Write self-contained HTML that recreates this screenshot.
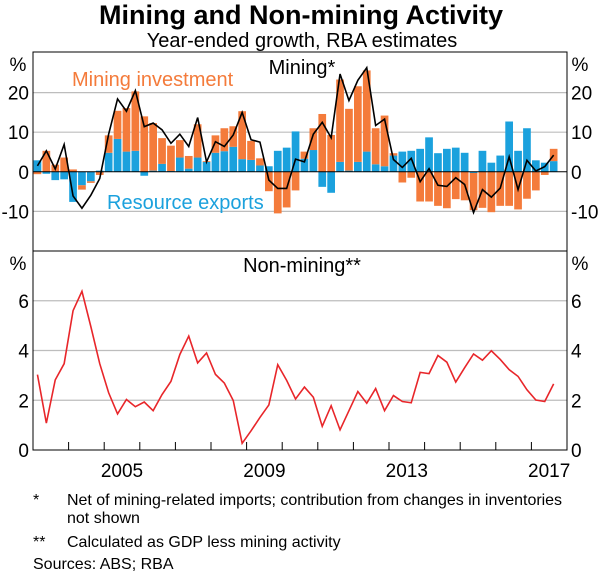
<!DOCTYPE html>
<html><head><meta charset="utf-8"><style>
body{margin:0;background:#fff;}
svg text{font-family:"Liberation Sans",Arial,sans-serif;}
</style></head><body>
<svg id="chart" width="600" height="574" viewBox="0 0 600 574" xmlns="http://www.w3.org/2000/svg">
<text x="301" y="24" font-size="27" font-weight="bold" text-anchor="middle">Mining and Non-mining Activity</text>
<text x="302" y="47" font-size="20" text-anchor="middle">Year-ended growth, RBA estimates</text>
<g id="topPanel"></g><g id="bottomPanel"></g>
<text x="33" y="505" font-size="16">*</text>
<text x="67" y="505" font-size="16" textLength="495">Net of mining-related imports; contribution from changes in inventories</text>
<text x="67" y="523" font-size="16">not shown</text>
<text x="33" y="547" font-size="16">**</text>
<text x="67" y="547" font-size="16">Calculated as GDP less mining activity</text>
<text x="33" y="569" font-size="16">Sources: ABS; RBA</text>
</svg>
<script>
const startYear = 2003;
const yearLabels = ["2005","2009","2013","2017"];
const topTicks = [20,10,0,-10];
const bottomTicks = [6,4,2,0];
const miningInvestment = [-0.6,5.3,1.8,3.6,0.6,-1.1,-0.4,-0.8,4.4,7.1,11.0,15.0,14.0,12.0,6.5,6.4,4.4,3.2,8.4,0.2,4.4,5.8,5.2,12.1,4.8,1.8,-4.9,-10.5,-9.0,-4.7,1.8,5.5,14.6,9.3,20.8,15.6,19.1,20.5,9.1,12.8,0.6,-2.7,-1.5,-7.5,-7.5,-8.6,-9.2,-6.9,-7.2,-9.4,-9.1,-10.2,-8.6,-8.6,-9.5,-6.8,-4.7,-0.8,3.1];
const resourceExports = [2.9,-0.5,-2.1,-1.9,-7.6,-3.4,-2.4,0.3,4.8,8.3,5.1,5.3,-1.0,0.3,2.0,0.2,3.6,0.8,3.6,2.5,4.8,5.2,6.3,3.2,3.0,1.6,1.4,5.3,6.1,10.2,3.3,5.5,-3.8,-5.3,2.5,0.3,2.5,5.1,1.9,1.4,4.1,5.1,5.3,5.8,8.7,4.7,5.8,6.1,4.8,-0.3,5.3,2.3,4.1,12.7,5.3,11.0,2.9,2.3,2.7];
const miningTotal = [1.5,5.3,0.7,6.9,-6.1,-9.2,-5.9,-1.7,9.5,18.4,15.3,20.5,11.4,12.3,10.6,7.2,9.5,6.4,13.7,2.5,7.6,6.4,9.3,15.0,8.1,7.5,-2.1,-4.2,-4.2,3.2,2.5,9.5,12.5,8.6,24.7,18.0,23.1,26.3,11.7,13.3,3.1,1.1,3.4,-2.5,0.8,-3.4,-3.7,-1.5,-3.2,-10.3,-4.5,-6.4,-4.1,3.8,-4.5,2.9,0.2,1.3,4.2];
const nonMining = [3.03,1.08,2.82,3.47,5.6,6.38,4.96,3.47,2.3,1.45,2.03,1.74,1.93,1.58,2.23,2.76,3.84,4.58,3.5,3.9,3.04,2.69,1.99,0.27,0.77,1.31,1.81,3.43,2.8,2.05,2.53,2.12,0.95,1.78,0.81,1.58,2.35,1.88,2.47,1.58,2.19,1.95,1.9,3.12,3.07,3.8,3.53,2.73,3.31,3.86,3.61,3.99,3.64,3.23,2.96,2.42,2.01,1.95,2.66];

const NS="http://www.w3.org/2000/svg";
const L=33,R=567,T=53,M=251,B=450,NQ=60;
const slot=(R-L)/NQ;
const xq=i=>L+slot*(i+0.5);
const xy=y=>L+(y-startYear)*slot*4;
const yTop=v=>T+(30-v)*(M-T)/50;
const yBot=v=>B-v*(B-M)/8;
function mk(tag,attrs,parent,text){const e=document.createElementNS(NS,tag);for(const k in attrs)e.setAttribute(k,attrs[k]);if(text!==undefined)e.textContent=text;parent.appendChild(e);return e;}
const topG=document.getElementById('topPanel'),botG=document.getElementById('bottomPanel');

topTicks.forEach(t=>{
  if(t!==0){const g=mk('line',{x1:L,x2:R,y1:yTop(t),y2:yTop(t),stroke:'#bdbdbd','stroke-width':1.2},topG);
  
  }
  const a=mk('text',{x:29,y:yTop(t)+7,'font-size':19,'text-anchor':'end'},topG,String(t));
  
  
  const b=mk('text',{x:571,y:yTop(t)+7,'font-size':19},topG,String(t));
  
  
});
bottomTicks.forEach(t=>{
  if(t!==0){const g=mk('line',{x1:L,x2:R,y1:yBot(t),y2:yBot(t),stroke:'#bdbdbd','stroke-width':1.2},botG);
  
  }
  const a=mk('text',{x:29,y:yBot(t)+7,'font-size':19,'text-anchor':'end'},botG,String(t));
  
  
  const b=mk('text',{x:571,y:yBot(t)+7,'font-size':19},botG,String(t));
  
  
});
const bw=slot-1.2;
for(let i=0;i<miningInvestment.length;i++){
  const b=resourceExports[i],o=miningInvestment[i];
  let pos=0,neg=0;
  const segs=[[b,'#1ba1dd','bar-resource-exports'],[o,'#f47b3b','bar-mining-investment']];
  segs.forEach(s=>{
    const v=s[0];let y0,y1;
    if(v>=0){y0=pos;y1=pos+v;pos=y1;}else{y0=neg;y1=neg+v;neg=y1;}
    const r=mk('rect',{x:xq(i)-bw/2,y:Math.min(yTop(y0),yTop(y1)),width:bw,height:Math.abs(yTop(y0)-yTop(y1)),fill:s[1]},topG);
    
    
  });
}
const zl=mk('line',{x1:L,x2:R,y1:yTop(0),y2:yTop(0),stroke:'#000','stroke-width':1},topG);


const ml=mk('polyline',{points:miningTotal.map((v,i)=>xq(i)+','+yTop(v)).join(' '),fill:'none',stroke:'#000','stroke-width':1.6},topG);


const nl=mk('polyline',{points:nonMining.map((v,i)=>xq(i)+','+yBot(v)).join(' '),fill:'none',stroke:'#e8262a','stroke-width':1.6},botG);


for(let y=startYear+1;y<startYear+15;y++){
  const t=mk('line',{x1:xy(y),x2:xy(y),y1:B,y2:B-8,stroke:'#000','stroke-width':1},botG);
  
  
}
yearLabels.forEach(s=>{
  const t=mk('text',{x:xy(+s+0.5),y:477,'font-size':19,'text-anchor':'middle'},botG,s);
  
  
});
const fr=mk('rect',{x:L,y:T-1,width:R-L,height:B-T+1,fill:'none',stroke:'#000','stroke-width':1},botG);


const dv=mk('line',{x1:L,x2:R,y1:M,y2:M,stroke:'#000','stroke-width':1},botG);


const lab=[['%',18,71,'top-left-unit','#000','middle',19],['%',580,71,'top-right-unit','#000','middle',19],['%',18,270,'bottom-left-unit','#000','middle',19],['%',580,270,'bottom-right-unit','#000','middle',19],['Mining*',302,74,'top-panel-title','#000','middle',20],['Non-mining**',302,272,'bottom-panel-title','#000','middle',20],['Mining investment',72,86,'legend-mining-investment','#f47b3b','start',20],['Resource exports',107,209,'legend-resource-exports','#1ba1dd','start',20]];
lab.forEach(a=>{
  const t=mk('text',{x:a[1],y:a[2],'font-size':a[6],fill:a[4],'text-anchor':a[5]},botG,a[0]);
  
  
});
</script>
</body></html>
